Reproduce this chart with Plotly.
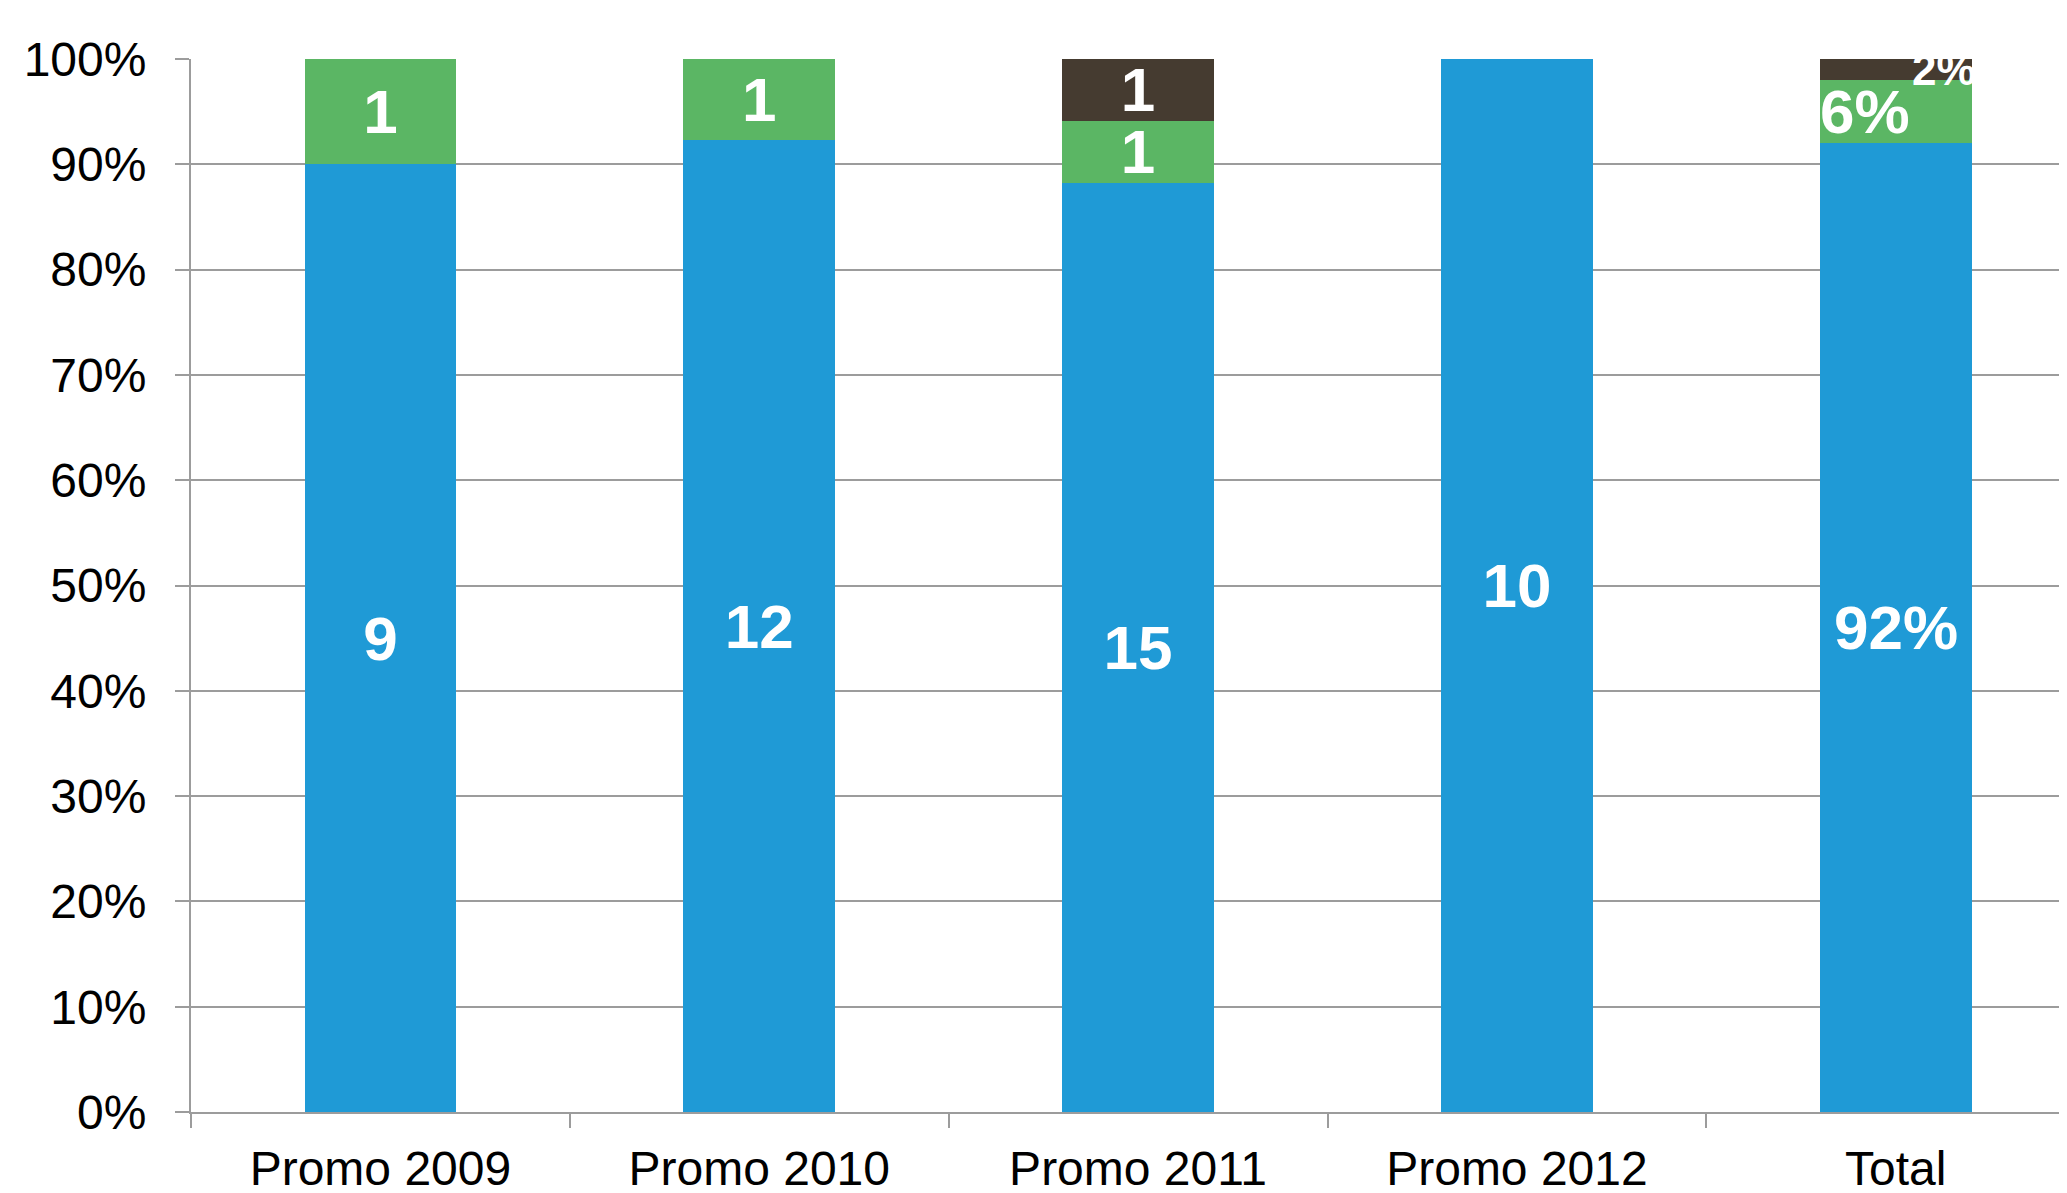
import plotly.graph_objects as go

categories = ["Promo 2009", "Promo 2010", "Promo 2011", "Promo 2012", "Total"]
blue_counts = [9, 12, 15, 10, 46]
green_counts = [1, 1, 1, 0, 3]
dark_counts = [0, 0, 1, 0, 1]
y_tick_vals = [0, 10, 20, 30, 40, 50, 60, 70, 80, 90, 100]
y_tick_text = ["0%", "10%", "20%", "30%", "40%", "50%", "60%", "70%", "80%", "90%", "100%"]

BLUE = "#1F9AD6"
GREEN = "#5BB664"
DARK = "#453B30"
GRID = "#9C9C9C"
FONT = "Liberation Sans, Arial, sans-serif"

totals = [b + g + d for b, g, d in zip(blue_counts, green_counts, dark_counts)]
blue_pct = [100 * b / t for b, t in zip(blue_counts, totals)]
green_pct = [100 * g / t for g, t in zip(green_counts, totals)]
dark_pct = [100 * d / t for d, t in zip(dark_counts, totals)]


def labels(counts):
    out = []
    for c, cat in zip(counts, categories):
        out.append("" if (c == 0 or cat == "Total") else str(c))
    return out


fig = go.Figure()
for pct, counts, color in [(blue_pct, blue_counts, BLUE),
                           (green_pct, green_counts, GREEN),
                           (dark_pct, dark_counts, DARK)]:
    fig.add_trace(go.Bar(
        x=categories, y=pct, marker=dict(color=color, line=dict(width=0)),
        text=labels(counts), textposition="inside", insidetextanchor="middle",
        textangle=0, constraintext="none",
        textfont=dict(family=FONT, size=62, color="white", weight="bold"),
        width=0.4, hoverinfo="skip",
    ))

# Total bar labels (percentages)
ti = categories.index("Total")
b, g, d = blue_pct[ti], green_pct[ti], dark_pct[ti]
fig.add_annotation(x="Total", y=b / 2, text=f"<b>{round(b)}%</b>", showarrow=False,
                   font=dict(family=FONT, size=62, color="white"), yanchor="middle")
fig.add_annotation(x="Total", y=b + g / 2, text=f"<b>{round(g)}%</b>", showarrow=False,
                   font=dict(family=FONT, size=62, color="white"),
                   xanchor="left", xshift=-78, yanchor="middle")
fig.add_annotation(x="Total", y=b + g, text=f"<b>{round(d)}%</b>", showarrow=False,
                   font=dict(family=FONT, size=44, color="white"),
                   xanchor="right", xshift=82, yanchor="bottom", yshift=-16)

fig.update_layout(
    barmode="stack",
    width=2059, height=1185,
    margin=dict(l=183, r=0, t=51, b=81, pad=0),
    plot_bgcolor="white", paper_bgcolor="white",
    showlegend=False,
    font=dict(family=FONT, size=47, color="black"),
)
fig.update_yaxes(
    range=[0, 100], tickvals=y_tick_vals, ticktext=y_tick_text,
    showgrid=True, gridcolor=GRID, gridwidth=2,
    showline=True, linecolor=GRID, linewidth=2,
    ticks="outside", ticklen=14, tickcolor=GRID, tickwidth=2,
    zeroline=False, ticklabelstandoff=19, automargin=False,
    tickfont=dict(family=FONT, size=48, color="black"),
)
fig.update_xaxes(
    range=[-0.5, 4.452],
    showline=True, linecolor=GRID, linewidth=2,
    ticks="outside", ticklen=14, tickcolor=GRID, tickwidth=2,
    tickson="boundaries", showgrid=False, automargin=False,
    tickfont=dict(family=FONT, size=48, color="black"),
    ticklabelstandoff=13,
)

fig.write_html("out.html")
